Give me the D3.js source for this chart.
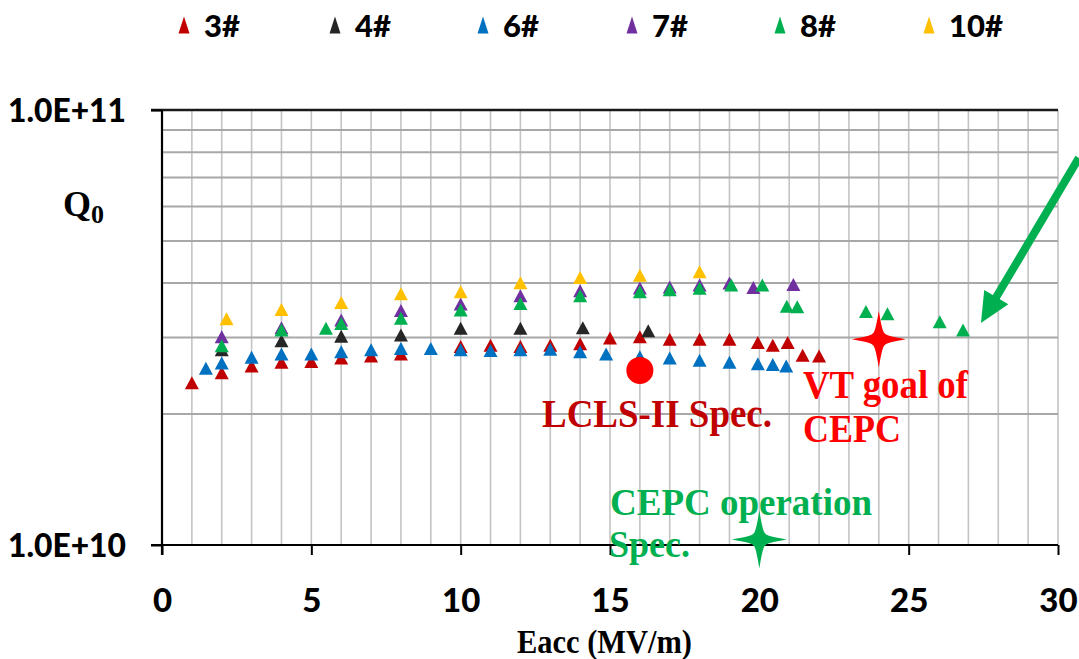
<!DOCTYPE html>
<html><head><meta charset="utf-8">
<script src="https://cdn.jsdelivr.net/npm/d3@7"></script>
<style>body{margin:0;background:#fff;} svg{display:block}</style>
</head><body>
<svg id="c" width="1079" height="659"></svg>
<script>
// ---------------- data ----------------
const seriesNames = ["3#", "4#", "6#", "7#", "8#", "10#"];
const seriesColors = ["#c00000", "#262626", "#0070c0", "#7030a0", "#00b050", "#ffc000"];

const s3x = [1,2,3,4,5,6,7,8,10,11,12,13,14,15,16,17,18,19,19.95,20.45,20.95,21.45,22];
const s3y = [2.36,2.49,2.58,2.63,2.64,2.69,2.72,2.75,2.86,2.88,2.86,2.88,2.90,2.99,3.01,2.97,2.97,2.97,2.92,2.88,2.92,2.73,2.72];

const s4x = [2,4,6,8,10,12,14.09,16.28];
const s4y = [2.81,2.95,3.02,3.04,3.15,3.15,3.16,3.11];

const s6x = [1.47,2,3,4,5,6,7,8,9,10,11,12,13,14,14.87,16,17,18,19,19.95,20.45,20.9];
const s6y = [2.55,2.62,2.70,2.75,2.75,2.78,2.81,2.83,2.83,2.81,2.80,2.81,2.82,2.78,2.75,2.71,2.69,2.66,2.63,2.61,2.60,2.58];

const s7x = [2,4,6,8,10,12,14,16,17,18,19,19.8,21.14];
const s7y = [3.01,3.16,3.29,3.46,3.58,3.74,3.84,3.90,3.92,3.96,4.00,3.91,3.97];

const s8x = [2,4,5.49,6,8,10,12,14,16,17,18,19.06,20.1,20.92,21.27,23.57,24.29,26.04,26.82];
const s8y = [2.87,3.12,3.15,3.23,3.32,3.47,3.59,3.74,3.82,3.86,3.89,3.96,3.96,3.54,3.53,3.44,3.40,3.26,3.12];

const s10x = [2.16,4,6,8,10,12,14,16,18];
const s10y = [3.31,3.48,3.61,3.78,3.82,4.01,4.12,4.17,4.25];

const allX = [s3x, s4x, s6x, s7x, s8x, s10x];
const allY = [s3y, s4y, s6y, s7y, s8y, s10y]; // in units of 1e10

// specification marks
const lclsSpec = {x: 16, y: 2.52e10};
const vtGoal = {x: 24, y: 2.97e10};
const cepcOp = {x: 20, y: 1.03e10};
// arrow (tail -> tip) in data coords
const arrowTail = {x: 30.7, y: 7.76e10};
const arrowTip = {x: 27.42, y: 3.24e10};

const xTicks = [0,5,10,15,20,25,30];
const yTicks = [1e10, 1e11];
const yTickLabels = ["1.0E+10", "1.0E+11"];
const yGrid = [2e10,3e10,4e10,5e10,6e10,7e10,8e10,9e10];

// ---------------- layout ----------------
const svg = d3.select("#c");
const x = d3.scaleLinear().domain([0, 30]).range([162, 1058]);
const y = d3.scaleLog().domain([1e10, 1e11]).range([545, 110]);

// grid
const grid = svg.append("g");
grid.selectAll("line.v").data(d3.range(1, 31)).join("line")
  .attr("x1", d => x(d)).attr("x2", d => x(d))
  .attr("y1", y(1e11)).attr("y2", y(1e10))
  .attr("stroke", "#c4c4c4").attr("stroke-width", 1.6);
grid.selectAll("line.h").data(yGrid).join("line")
  .attr("x1", x(0)).attr("x2", x(30))
  .attr("y1", d => y(d)).attr("y2", d => y(d))
  .attr("stroke", "#a8a8a8").attr("stroke-width", 2);
// top border
grid.append("line").attr("x1", x(0) - 11).attr("x2", x(30))
  .attr("y1", y(1e11)).attr("y2", y(1e11))
  .attr("stroke", "#1a1a1a").attr("stroke-width", 2.5);

// axes
const tickFont = "Lato, 'Open Sans', sans-serif";
const gx = svg.append("g").attr("transform", `translate(0,${y(1e10)})`)
  .call(d3.axisBottom(x).tickValues(xTicks).tickSize(10).tickSizeOuter(0).tickFormat(d3.format("d")));
gx.select(".domain").attr("stroke", "#000").attr("stroke-width", 2.2)
  .attr("d", `M${x(0)-11},0H${x(30)}`);
gx.selectAll(".tick line").attr("stroke", "#000").attr("stroke-width", 2);
gx.selectAll(".tick text").attr("font-family", tickFont).attr("font-weight", "900")
  .attr("font-size", 33).attr("fill", "#000").attr("y", 0).attr("dy", 67);

const gy = svg.append("g").attr("transform", `translate(${x(0)},0)`)
  .call(d3.axisLeft(y).tickValues(yTicks).tickSize(11).tickSizeOuter(0)
    .tickFormat((d, i) => yTickLabels[i]));
gy.select(".domain").attr("stroke", "#000").attr("stroke-width", 2.2)
  .attr("d", `M0,${y(1e11)}V${y(1e10) + 10}`);
gy.selectAll(".tick line").attr("stroke", "#000").attr("stroke-width", 2);
gy.selectAll(".tick text").attr("font-family", tickFont).attr("font-weight", "900")
  .attr("font-size", 32).attr("fill", "#000").attr("x", -36).attr("dy", "0.36em")
  .attr("textLength", 118).attr("lengthAdjust", "spacingAndGlyphs");

// axis titles
const serif = "'Liberation Serif', 'Times New Roman', serif";
const q = svg.append("text").attr("x", 63).attr("y", 216)
  .attr("font-family", serif).attr("font-weight", "bold").attr("font-size", 36).attr("fill", "#000");
q.append("tspan").text("Q");
q.append("tspan").attr("font-size", 26).attr("dy", 7).text("0");

svg.append("text").attr("x", 517).attr("y", 653)
  .attr("font-family", serif).attr("font-weight", "bold").attr("font-size", 33).attr("fill", "#000")
  .attr("textLength", 175).attr("lengthAdjust", "spacingAndGlyphs")
  .text("Eacc (MV/m)");

// data markers
const tri = "M0,-6.5L7,6.5L-7,6.5Z";
const marks = svg.append("g");
allX.forEach((xs, si) => {
  const pts = xs.map((v, i) => ({x: v, y: allY[si][i] * 1e10}));
  marks.append("g").selectAll("path").data(pts).join("path")
    .attr("d", tri)
    .attr("transform", d => `translate(${x(d.x)},${y(d.y)})`)
    .attr("fill", seriesColors[si]);
});

// legend
const legTriX = [184, 335, 483, 632, 780, 929];
const leg = svg.append("g");
seriesNames.forEach((n, i) => {
  leg.append("path").attr("d", "M0,-8.5L5.5,8.5L-5.5,8.5Z")
    .attr("transform", `translate(${legTriX[i]},25)`).attr("fill", seriesColors[i]);
  leg.append("text").attr("x", legTriX[i] + 20).attr("y", 37)
    .attr("font-family", tickFont).attr("font-weight", "900").attr("font-size", 31)
    .attr("fill", "#000").attr("textLength", n.length * 18).attr("lengthAdjust", "spacingAndGlyphs")
    .text(n);
});

// LCLS-II spec circle
svg.append("circle").attr("cx", x(lclsSpec.x)).attr("cy", y(lclsSpec.y)).attr("r", 13.5)
  .attr("fill", "#ff0000");

// four-point stars
function star(w, h, k) {
  return `M${-w},0Q${-k},${-k*0.6} ${-k},${-k}Q${-k*0.6},${-k} 0,${-h}Q${k*0.6},${-k} ${k},${-k}Q${k},${-k*0.6} ${w},0` +
         `Q${k},${k*0.6} ${k},${k}Q${k*0.6},${k} 0,${h}Q${-k*0.6},${k} ${-k},${k}Q${-k},${k*0.6} ${-w},0Z`;
}
svg.append("path").attr("d", star(27, 28.5, 6))
  .attr("transform", `translate(${x(vtGoal.x)},${y(vtGoal.y)})`).attr("fill", "#ff0000");
svg.append("path").attr("d", star(27.5, 29, 6))
  .attr("transform", `translate(${x(cepcOp.x)},${y(cepcOp.y)})`).attr("fill", "#00b050");

// annotation texts
function label(t, px, py, len, color, size) {
  svg.append("text").attr("x", px).attr("y", py)
    .attr("font-family", serif).attr("font-weight", "bold").attr("font-size", size)
    .attr("fill", color).attr("textLength", len).attr("lengthAdjust", "spacingAndGlyphs").text(t);
}
label("LCLS-II Spec.", 542, 427, 230, "#c00000", 40);
label("VT goal of", 803, 398, 165, "#ff0000", 40);
label("CEPC", 803, 442, 98, "#ff0000", 40);
label("CEPC operation", 610, 515, 262, "#00b050", 38);
label("Spec.", 609, 557, 81, "#00b050", 38);

// green arrow
const tx = x(arrowTip.x), ty = y(arrowTip.y), sx = x(arrowTail.x), sy = y(arrowTail.y);
const dx = sx - tx, dy = sy - ty, L = Math.hypot(dx, dy), ux = dx / L, uy = dy / L;
const headL = 30, headW = 14;
const bx = tx + ux * headL, by = ty + uy * headL;
svg.append("line").attr("x1", sx).attr("y1", sy).attr("x2", tx + ux * (headL - 4)).attr("y2", ty + uy * (headL - 4))
  .attr("stroke", "#00b050").attr("stroke-width", 8);
svg.append("path")
  .attr("d", `M${tx},${ty}L${bx - uy * headW},${by + ux * headW}L${bx + uy * headW},${by - ux * headW}Z`)
  .attr("fill", "#00b050");
</script>
</body></html>
